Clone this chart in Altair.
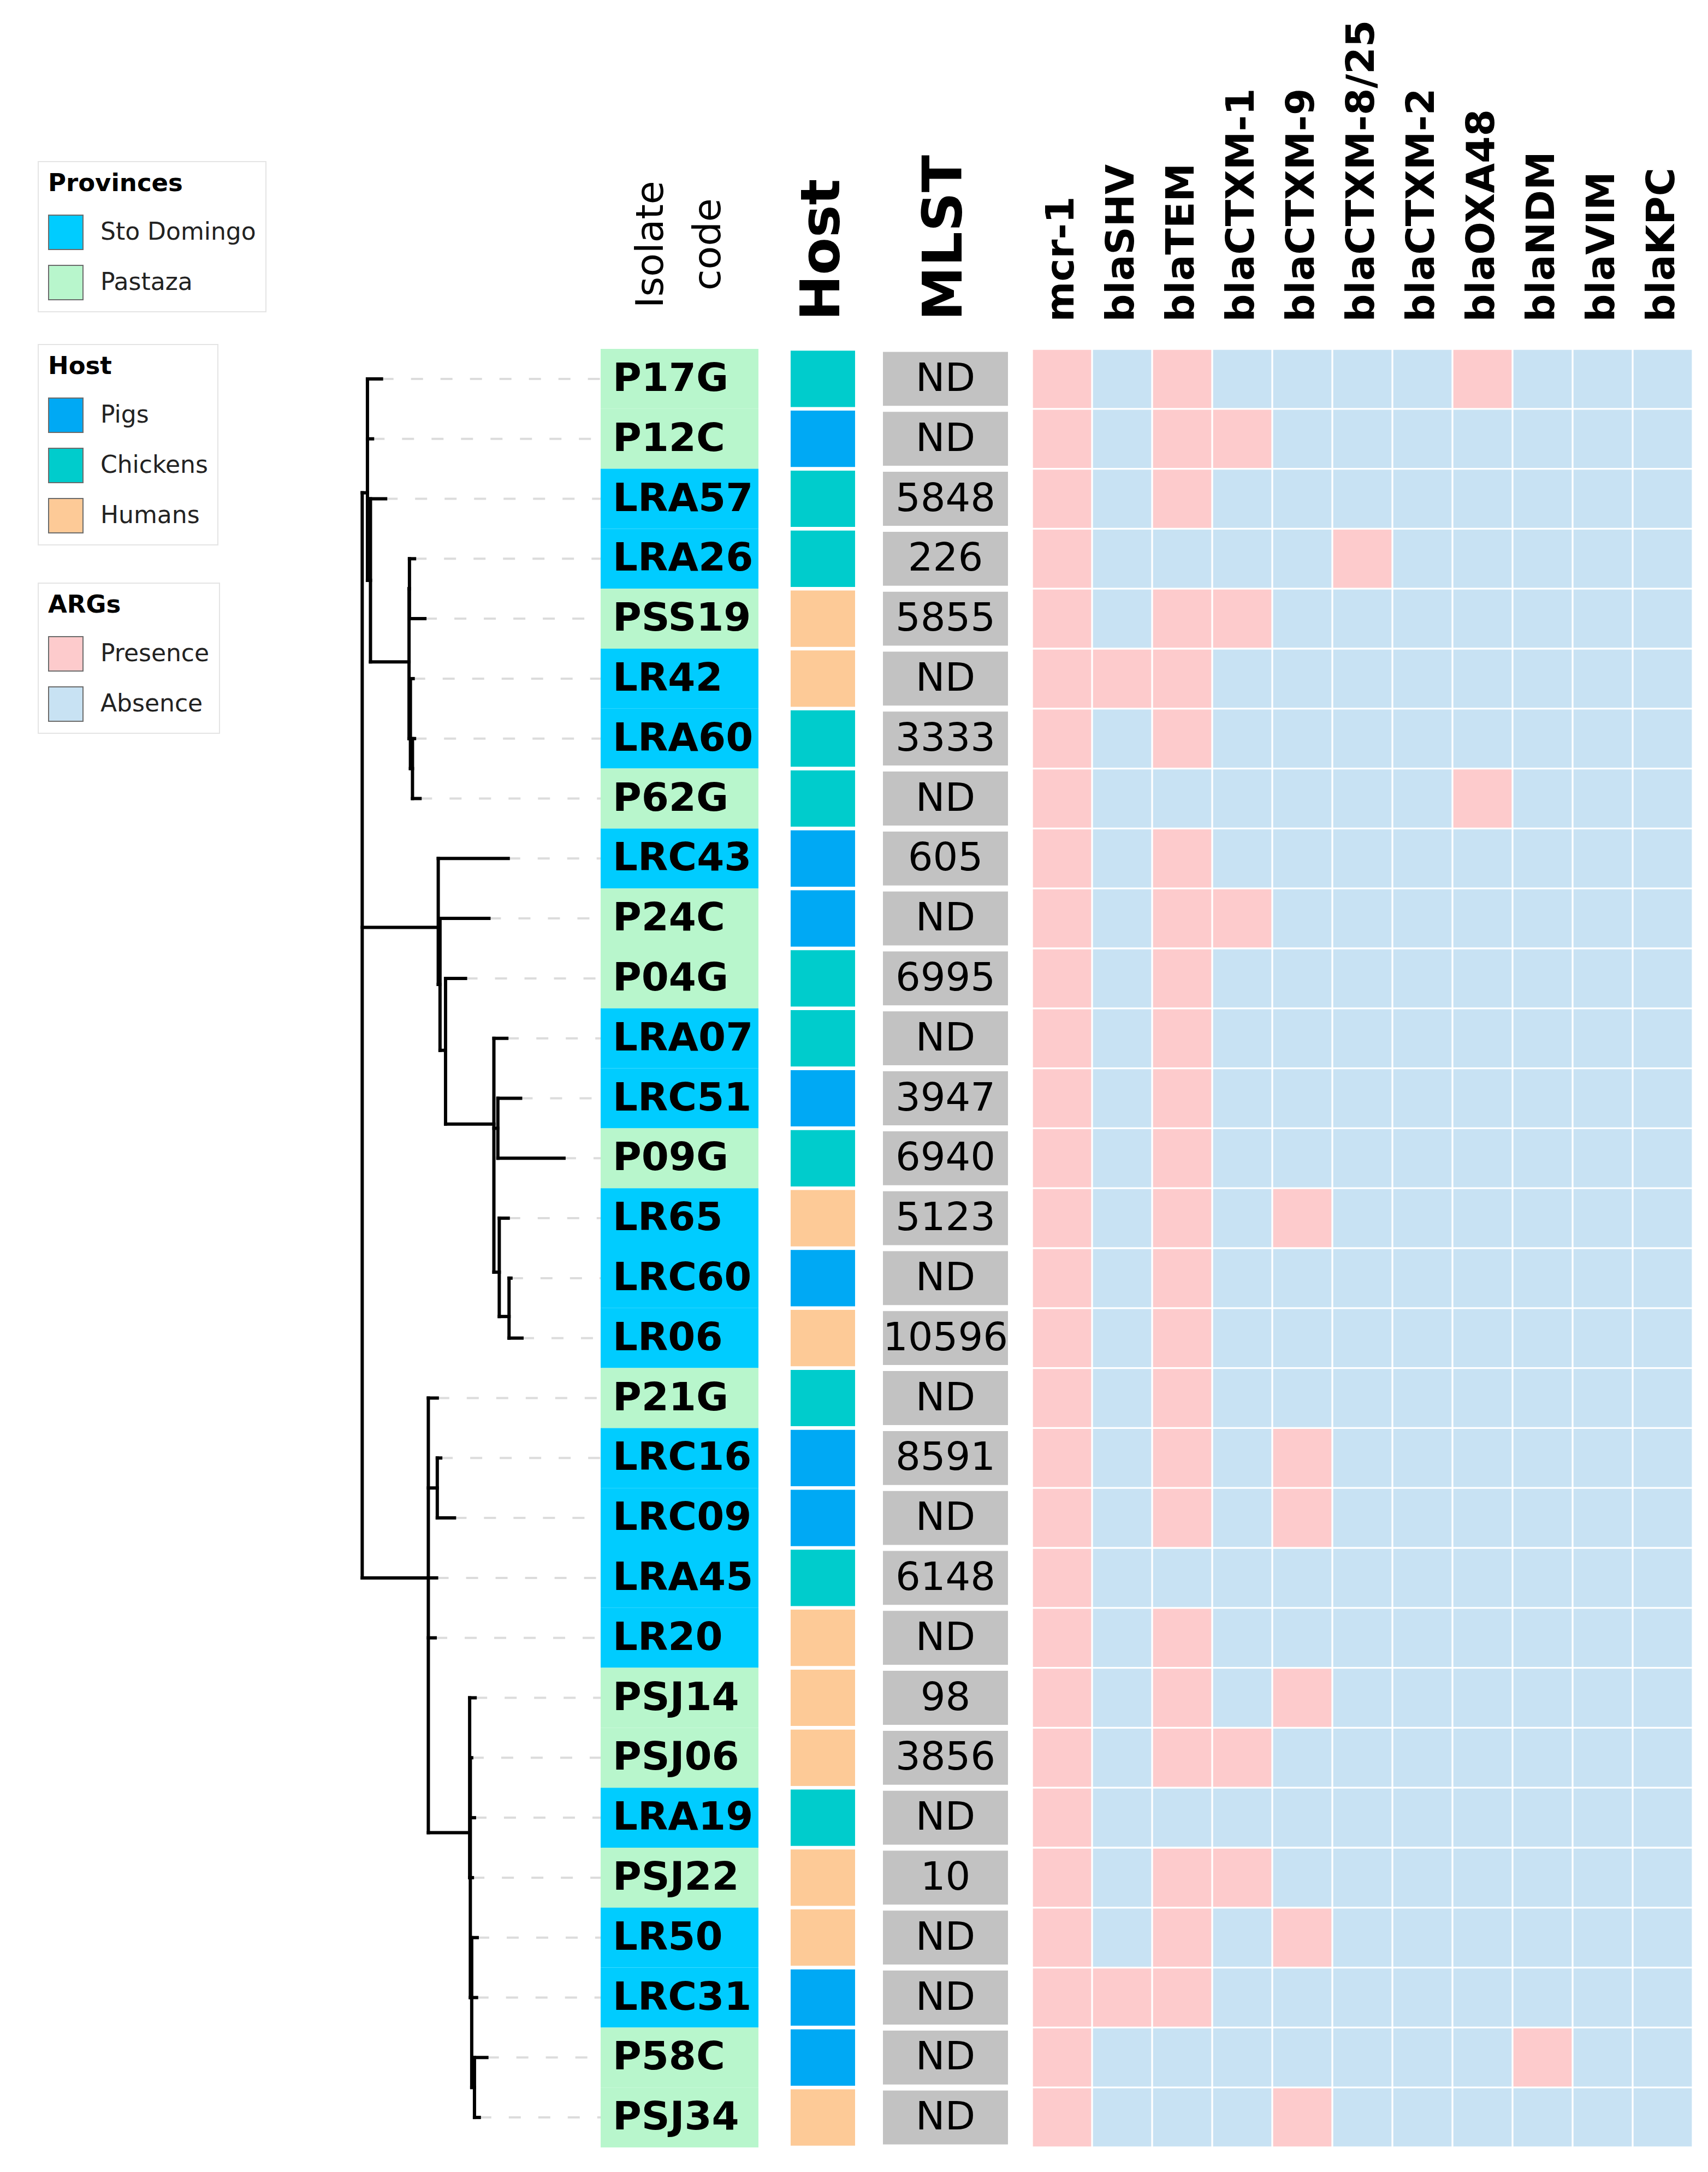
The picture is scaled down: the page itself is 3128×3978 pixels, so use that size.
import altair as alt
import pandas as pd

# ---------------- data ----------------
isolates = ["P17G", "P12C", "LRA57", "LRA26", "PSS19", "LR42", "LRA60", "P62G",
            "LRC43", "P24C", "P04G", "LRA07", "LRC51", "P09G", "LR65", "LRC60",
            "LR06", "P21G", "LRC16", "LRC09", "LRA45", "LR20", "PSJ14", "PSJ06",
            "LRA19", "PSJ22", "LR50", "LRC31", "P58C", "PSJ34"]
provinces = ["Pastaza", "Pastaza", "Sto Domingo", "Sto Domingo", "Pastaza", "Sto Domingo",
             "Sto Domingo", "Pastaza", "Sto Domingo", "Pastaza", "Pastaza", "Sto Domingo",
             "Sto Domingo", "Pastaza", "Sto Domingo", "Sto Domingo", "Sto Domingo", "Pastaza",
             "Sto Domingo", "Sto Domingo", "Sto Domingo", "Sto Domingo", "Pastaza", "Pastaza",
             "Sto Domingo", "Pastaza", "Sto Domingo", "Sto Domingo", "Pastaza", "Pastaza"]
hosts = ["Chickens", "Pigs", "Chickens", "Chickens", "Humans", "Humans", "Chickens", "Chickens",
         "Pigs", "Pigs", "Chickens", "Chickens", "Pigs", "Chickens", "Humans", "Pigs",
         "Humans", "Chickens", "Pigs", "Pigs", "Chickens", "Humans", "Humans", "Humans",
         "Chickens", "Humans", "Humans", "Pigs", "Pigs", "Humans"]
mlst = ["ND", "ND", "5848", "226", "5855", "ND", "3333", "ND", "605", "ND", "6995", "ND",
        "3947", "6940", "5123", "ND", "10596", "ND", "8591", "ND", "6148", "ND", "98", "3856",
        "ND", "10", "ND", "ND", "ND", "ND"]
genes = ["mcr-1", "blaSHV", "blaTEM", "blaCTXM-1", "blaCTXM-9", "blaCTXM-8/25",
         "blaCTXM-2", "blaOXA48", "blaNDM", "blaVIM", "blaKPC"]
# one character per gene (order as in genes): 1 = presence, 0 = absence
arg_profiles = ["10100001000", "10110000000", "10100000000", "10000100000", "10110000000",
                "11100000000", "10100000000", "10000001000", "10100000000", "10110000000",
                "10100000000", "10100000000", "10100000000", "10100000000", "10101000000",
                "10100000000", "10100000000", "10100000000", "10101000000", "10101000000",
                "10000000000", "10100000000", "10101000000", "10110000000", "10000000000",
                "10110000000", "10101000000", "11100000000", "10000000100", "10001000000"]

province_domain = ["Sto Domingo", "Pastaza"]
province_colors = ["#00CCFF", "#B8F6CC"]
host_domain = ["Pigs", "Chickens", "Humans"]
host_colors = ["#00A9F4", "#00CCCC", "#FDCA97"]
arg_domain = ["Presence", "Absence"]
arg_colors = ["#FDCBCC", "#C8E2F3"]

# tree: internal nodes and leaves with depth and row
node_names = ["R", "A", "A1", "A2", "A2a", "A2b", "A2c", "B", "B1", "B1p", "B2", "B3",
              "B4", "B5", "C", "C1", "C2", "C2a", "C2b", "C2c"]
node_parents = ["", "R", "A", "A1", "A2", "A2", "A2b", "R", "B", "B1", "B1p", "B2",
                "B2", "B4", "R", "C", "C", "C2", "C2a", "C2b"]
node_depths = [0.0, 0.0038, 0.006, 0.034, 0.0343, 0.035, 0.0365, 0.0552, 0.0565, 0.0605,
               0.0956, 0.0985, 0.0995, 0.1066, 0.048, 0.0545, 0.078, 0.0785, 0.0795, 0.0815]
node_rows = [11.0, 1.9, 3.36, 4.72, 3.5, 6.0, 6.5, 9.15, 10.1, 11.2, 12.43, 12.5,
             14.9, 15.64, 20.0, 18.5, 24.25, 25.0, 27.0, 28.5]
leaf_parents = ["A", "A", "A1", "A2a", "A2a", "A2b", "A2c", "A2c", "B", "B1", "B1p", "B2",
                "B3", "B3", "B4", "B5", "B5", "C", "C1", "C1", "C", "C", "C2", "C2a",
                "C2a", "C2a", "C2b", "C2b", "C2c", "C2c"]
leaf_depths = [0.014, 0.0075, 0.017, 0.038, 0.0455, 0.037, 0.038, 0.042, 0.106, 0.092,
               0.075, 0.105, 0.115, 0.1465, 0.106, 0.108, 0.116, 0.0545, 0.057, 0.067,
               0.054, 0.053, 0.082, 0.0795, 0.0815, 0.080, 0.0835, 0.083, 0.0905, 0.085]

# ---------------- layout settings ----------------
N = len(isolates)
ROW_H = 109.8
H = ROW_H * N
TREE_X = [-0.2598, 0.1731]
FONT = "DejaVu Sans"

# ---------------- tree tables ----------------
pos = {n: (d, r) for n, d, r in zip(node_names, node_depths, node_rows)}
for i, name in enumerate(isolates):
    pos[name] = (leaf_depths[i], float(i))
parent = dict(zip(node_names, node_parents))
parent.update(dict(zip(isolates, leaf_parents)))
children = {}
for c, p in parent.items():
    if p:
        children.setdefault(p, []).append(c)
segs = []
for c, p in parent.items():
    if p:
        segs.append({"x0": pos[p][0], "x1": pos[c][0], "y0": pos[c][1], "y1": pos[c][1]})
for p, cs in children.items():
    rows = [pos[c][1] for c in cs]
    segs.append({"x0": pos[p][0], "x1": pos[p][0], "y0": min(rows), "y1": max(rows)})
seg_df = pd.DataFrame(segs)
lead_df = pd.DataFrame({"x0": leaf_depths, "x1": [TREE_X[1]] * N, "y": list(range(N))})

xs = alt.Scale(domain=TREE_X, nice=False, zero=False)
ys = alt.Scale(domain=[-0.5, N - 0.5], reverse=True, nice=False, zero=False)

leaders = alt.Chart(lead_df).mark_rule(color="#dcdcdc", strokeWidth=4, strokeDash=[22, 32]).encode(
    x=alt.X("x0:Q", scale=xs, axis=None), x2="x1:Q",
    y=alt.Y("y:Q", scale=ys, axis=None))
branches = alt.Chart(seg_df).mark_rule(color="black", strokeWidth=6, strokeCap="square").encode(
    x=alt.X("x0:Q", scale=xs, axis=None), x2="x1:Q",
    y=alt.Y("y0:Q", scale=ys, axis=None), y2="y1:Q")
tree = alt.layer(leaders, branches).properties(width=1092, height=H)

# ---------------- table columns ----------------
base_df = pd.DataFrame({"isolate": isolates, "province": provinces, "host": hosts, "mlst": mlst})
base_df["c_iso"] = "Isolate code"
base_df["c_host"] = "Host"
base_df["c_mlst"] = "MLST"


def yband(pi):
    return alt.Y("isolate:N", sort=isolates, axis=None,
                 scale=alt.Scale(paddingInner=pi, paddingOuter=pi / 2))


def top_axis(size, weight, padding, align="left", **kw):
    return alt.Axis(orient="top", title=None, ticks=False, domain=False, labelAngle=270,
                    labelAlign=align, labelBaseline="middle", labelPadding=padding,
                    labelFontSize=size, labelFontWeight=weight, labelFont=FONT,
                    labelColor="black", labelLimit=3000, labelOverlap=False, **kw)


iso_rect = alt.Chart(base_df).mark_rect().encode(
    x=alt.X("c_iso:N", scale=alt.Scale(paddingInner=0, paddingOuter=0),
            axis=top_axis(70, "normal", 192, align="center", labelOffset=-52,
                          labelExpr="split(datum.label, ' ')", labelLineHeight=105)),
    y=yband(0),
    color=alt.Color("province:N", scale=alt.Scale(domain=province_domain, range=province_colors),
                    legend=alt.Legend(title="Provinces", orient="none", legendX=-1030, legendY=-343)))
iso_text = alt.Chart(base_df).mark_text(align="left", dx=22, baseline="middle", fontSize=72,
                                        fontWeight="bold", font=FONT, color="black").encode(
    x=alt.X("c_iso:N", bandPosition=0), y=yband(0), text="isolate:N")
iso = alt.layer(iso_rect, iso_text).properties(width=289, height=H)

host = alt.Chart(base_df).mark_rect().encode(
    x=alt.X("c_host:N", scale=alt.Scale(paddingInner=0, paddingOuter=0.466, align=0.536),
            axis=top_axis(100, "bold", 52)),
    y=yband(0.06),
    color=alt.Color("host:N", scale=alt.Scale(domain=host_domain, range=host_colors),
                    legend=alt.Legend(title="Host", orient="none", legendX=-1319, legendY=-8))
).properties(width=228, height=H)

mlst_rect = alt.Chart(base_df).mark_rect(color="#C2C2C2").encode(
    x=alt.X("c_mlst:N", scale=alt.Scale(paddingInner=0, paddingOuter=0.0961, align=0),
            axis=top_axis(100, "bold", 52)),
    y=yband(0.1))
mlst_text = alt.Chart(base_df).mark_text(baseline="middle", fontSize=72, font=FONT, color="black").encode(
    x=alt.X("c_mlst:N"), y=yband(0.1), text="mlst:N")
mlst_panel = alt.layer(mlst_rect, mlst_text).properties(width=273, height=H)

arg_rows = []
for iso_name, prof in zip(isolates, arg_profiles):
    for g, ch in zip(genes, prof):
        arg_rows.append({"isolate": iso_name, "gene": g,
                         "status": "Presence" if ch == "1" else "Absence"})
arg_df = pd.DataFrame(arg_rows)
arg = alt.Chart(arg_df).mark_rect().encode(
    x=alt.X("gene:N", sort=genes, scale=alt.Scale(paddingInner=0.03, paddingOuter=0.015),
            axis=top_axis(71, "bold", 50)),
    y=yband(0.03),
    color=alt.Color("status:N", scale=alt.Scale(domain=arg_domain, range=arg_colors),
                    legend=alt.Legend(title="ARGs", orient="none", legendX=-1820, legendY=429))
).properties(width=1210, height=H)

chart = alt.hconcat(tree, iso, host, mlst_panel, arg, spacing=0, bounds="flush").resolve_scale(
    x="independent", y="independent", color="independent"
).properties(
    padding={"left": 0, "top": 28, "right": 20, "bottom": 20}
).configure(font=FONT).configure_view(strokeWidth=0).configure_legend(
    titleFontSize=45, titleFont=FONT, titleFontWeight="bold", titleColor="black", titlePadding=34,
    titleLimit=1000,
    labelFontSize=44, labelFont=FONT, labelColor="#222222", labelOffset=31, labelLimit=1000,
    symbolType="square", symbolSize=3969, symbolStrokeColor="#6b6b6b", symbolStrokeWidth=2,
    rowPadding=21, padding=18, strokeColor="#e4e4e4", strokeWidth=2, fillColor="white",
    direction="vertical")

chart.save("out.html", embed_options={"renderer": "svg", "actions": False})
